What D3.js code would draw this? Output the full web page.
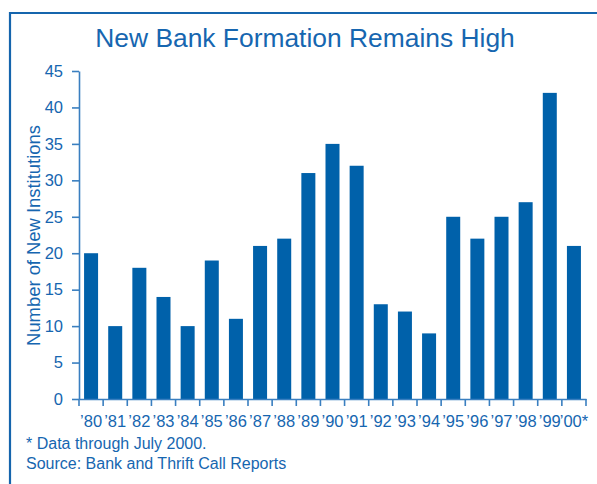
<!DOCTYPE html>
<html>
<head>
<meta charset="utf-8">
<script src="https://cdn.jsdelivr.net/npm/d3@7/dist/d3.min.js"></script>
<style>
  html, body { margin: 0; padding: 0; background: #fff; }
  svg { display: block; font-family: "Liberation Sans", Arial, Helvetica, sans-serif; }
</style>
</head>
<body>
<svg id="chart" width="597" height="484"></svg>
<script>
// New bank charters per year, 1980 through July 2000
const years = ["’80","’81","’82","’83","’84","’85","’86","’87","’88","’89","’90",
               "’91","’92","’93","’94","’95","’96","’97","’98","’99","’00*"];
const newInstitutions = [20, 10, 18, 14, 10, 19, 11, 21, 22, 31, 35,
                         32, 13, 12, 9, 25, 22, 25, 27, 42, 21];
const yTicks = [0, 5, 10, 15, 20, 25, 30, 35, 40, 45];
const footnotes = ["* Data through July 2000.", "Source: Bank and Thrift Call Reports"];

const barColor = "#0061aa";
const textColor = "#1666b0";
const axisColor = "#3a7fc0";

const svg = d3.select("#chart");

// frame around the panel (top and left edges visible)
svg.append("path")
  .attr("d", "M10,500 L10,13 L620,13")
  .attr("fill", "none")
  .attr("stroke", "#1565ad")
  .attr("stroke-width", 2.2);

const plotLeft = 79, plotRight = 586, plotTop = 71, plotBottom = 399;

const x = d3.scaleBand()
  .domain(years)
  .range([plotLeft, plotRight])
  .paddingInner(0.42)
  .paddingOuter(0.21);

const y = d3.scaleLinear()
  .domain([0, 45])
  .range([plotBottom, plotTop]);

// title
svg.append("text")
  .attr("x", 305).attr("y", 47)
  .attr("text-anchor", "middle")
  .attr("font-size", 26.4)
  .attr("fill", textColor)
  .text("New Bank Formation Remains High");

// bars
svg.append("g").selectAll("rect")
  .data(years.map((c, i) => ({ c, v: newInstitutions[i] })))
  .join("rect")
  .attr("x", d => x(d.c))
  .attr("width", x.bandwidth())
  .attr("y", d => y(d.v))
  .attr("height", d => y(0) - y(d.v))
  .attr("fill", barColor);

// y axis
const yAxis = svg.append("g")
  .attr("transform", `translate(${plotLeft},0)`)
  .call(d3.axisLeft(y).tickValues(yTicks).tickSize(7).tickSizeOuter(0).tickPadding(9));
yAxis.select(".domain").attr("stroke", axisColor).attr("stroke-width", 1.6);
yAxis.selectAll(".tick line").attr("stroke", axisColor).attr("stroke-width", 1.6);
yAxis.selectAll(".tick text")
  .attr("font-size", 16.5)
  .attr("fill", textColor)
  .attr("font-family", "Liberation Sans, Arial, sans-serif");

// x axis: labels centred on each band, ticks on band boundaries
const xAxis = svg.append("g")
  .attr("transform", `translate(0,${plotBottom})`)
  .call(d3.axisBottom(x).tickSize(0).tickSizeOuter(0).tickPadding(16.5));
xAxis.select(".domain").attr("stroke", axisColor).attr("stroke-width", 1.6);
xAxis.selectAll(".tick text")
  .attr("font-size", 16.5)
  .attr("fill", textColor)
  .attr("font-family", "Liberation Sans, Arial, sans-serif");

const boundaries = d3.range(years.length + 1).map(i => plotLeft + i * x.step());
xAxis.append("g").selectAll("line")
  .data(boundaries)
  .join("line")
  .attr("x1", d => d).attr("x2", d => d)
  .attr("y1", 0).attr("y2", 7)
  .attr("stroke", axisColor)
  .attr("stroke-width", 1.6);

// y axis title
svg.append("text")
  .attr("transform", `translate(40,${(125 + 346) / 2}) rotate(-90)`)
  .attr("text-anchor", "middle")
  .attr("font-size", 18.4)
  .attr("fill", textColor)
  .text("Number of New Institutions");

// notes
svg.append("g").selectAll("text")
  .data(footnotes)
  .join("text")
  .attr("x", 26)
  .attr("y", (d, i) => 449 + i * 20)
  .attr("font-size", 16)
  .attr("fill", textColor)
  .text(d => d);
</script>
</body>
</html>
